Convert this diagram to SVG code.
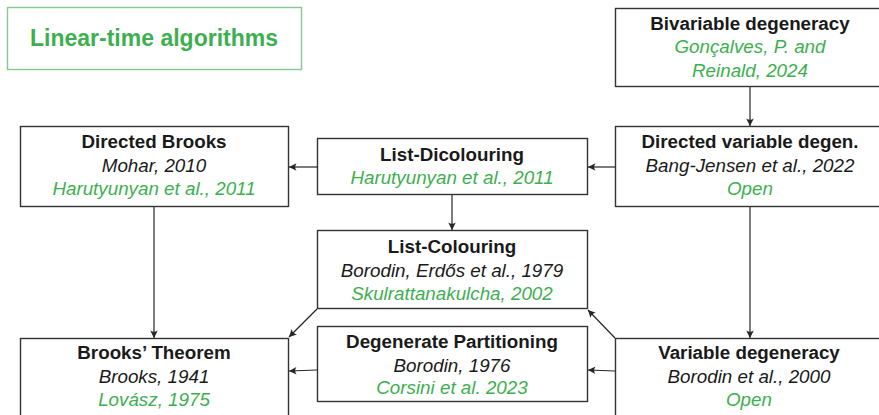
<svg xmlns="http://www.w3.org/2000/svg" width="879" height="415" viewBox="0 0 879 415">
  <style>
    .box { fill: #ffffff; stroke: #333333; stroke-width: 1.4; }
    .gbox { fill: #ffffff; stroke: #86c990; stroke-width: 1.4; }
    text { font-family: "Liberation Sans", Arial, sans-serif; font-size: 18.8px; text-anchor: middle; }
    .h { font-weight: bold; fill: #1a1a1a; }
    .a { font-style: italic; fill: #1a1a1a; }
    .g { font-style: italic; fill: #3daf50; }
    .title { font-size: 23px; font-weight: bold; fill: #3daf50; }
    .edge { fill: none; stroke: #262626; stroke-width: 1.2; marker-end: url(#arr); }
  </style>
  <defs>
    <marker id="arr" viewBox="-8 -5 10 10" refX="0" refY="0" markerWidth="10" markerHeight="10" markerUnits="userSpaceOnUse" orient="auto">
      <path d="M0,0 L-7.5,-3.8 Q-4.8,0 -7.5,3.8 Z" fill="#262626"/>
    </marker>
  </defs>

  <g id="linear-time">
    <rect class="gbox" x="7.5" y="7.5" width="294" height="62"/>
    <text class="title" x="154" y="46" textLength="248" lengthAdjust="spacingAndGlyphs">Linear-time algorithms</text>
  </g>

  <g id="bivariable">
    <rect class="box" x="615.5" y="8.5" width="270" height="78"/>
    <text class="h" x="750" y="30">Bivariable degeneracy</text>
    <text class="g" x="750" y="53">Gonçalves, P. and</text>
    <text class="g" x="750" y="77">Reinald, 2024</text>
  </g>

  <g id="directed-variable">
    <rect class="box" x="615.5" y="126.5" width="270" height="80"/>
    <text class="h" x="750" y="148">Directed variable degen.</text>
    <text class="a" x="750" y="172">Bang-Jensen et al., 2022</text>
    <text class="g" x="750" y="195">Open</text>
  </g>

  <g id="directed-brooks">
    <rect class="box" x="20.5" y="126.5" width="268" height="80"/>
    <text class="h" x="154" y="148">Directed Brooks</text>
    <text class="a" x="154" y="172">Mohar, 2010</text>
    <text class="g" x="154" y="195">Harutyunyan et al., 2011</text>
  </g>

  <g id="list-dicolouring">
    <rect class="box" x="317.5" y="138.5" width="270" height="56"/>
    <text class="h" x="452" y="161">List-Dicolouring</text>
    <text class="g" x="452" y="184">Harutyunyan et al., 2011</text>
  </g>

  <g id="list-colouring">
    <rect class="box" x="317.5" y="230.5" width="270" height="78"/>
    <text class="h" x="452" y="253">List-Colouring</text>
    <text class="a" x="452" y="277">Borodin, Erdős et al., 1979</text>
    <text class="g" x="452" y="300">Skulrattanakulcha, 2002</text>
  </g>

  <g id="degenerate-partitioning">
    <rect class="box" x="317.5" y="326.5" width="270" height="75"/>
    <text class="h" x="452" y="348">Degenerate Partitioning</text>
    <text class="a" x="452" y="372">Borodin, 1976</text>
    <text class="g" x="452" y="394">Corsini et al. 2023</text>
  </g>

  <g id="brooks-theorem">
    <rect class="box" x="20.5" y="338.5" width="268" height="90"/>
    <text class="h" x="154" y="359">Brooks’ Theorem</text>
    <text class="a" x="154" y="383">Brooks, 1941</text>
    <text class="g" x="154" y="406">Lovász, 1975</text>
  </g>

  <g id="variable-degeneracy">
    <rect class="box" x="615.5" y="338.5" width="270" height="90"/>
    <text class="h" x="749" y="359">Variable degeneracy</text>
    <text class="a" x="749" y="383">Borodin et al., 2000</text>
    <text class="g" x="749" y="406">Open</text>
  </g>

  <g id="connectors">
    <path class="edge" d="M750,87 L750,126"/>
    <path class="edge" d="M615,167 L588,167"/>
    <path class="edge" d="M318,167 L289,167"/>
    <path class="edge" d="M452,195 L452,230"/>
    <path class="edge" d="M154,207 L154,338"/>
    <path class="edge" d="M750,207 L750,338"/>
    <path class="edge" d="M317,309 L289,337"/>
    <path class="edge" d="M615,338 L588,310"/>
    <path class="edge" d="M615,371 L588,370"/>
    <path class="edge" d="M317,370 L289,371"/>
  </g>
</svg>
